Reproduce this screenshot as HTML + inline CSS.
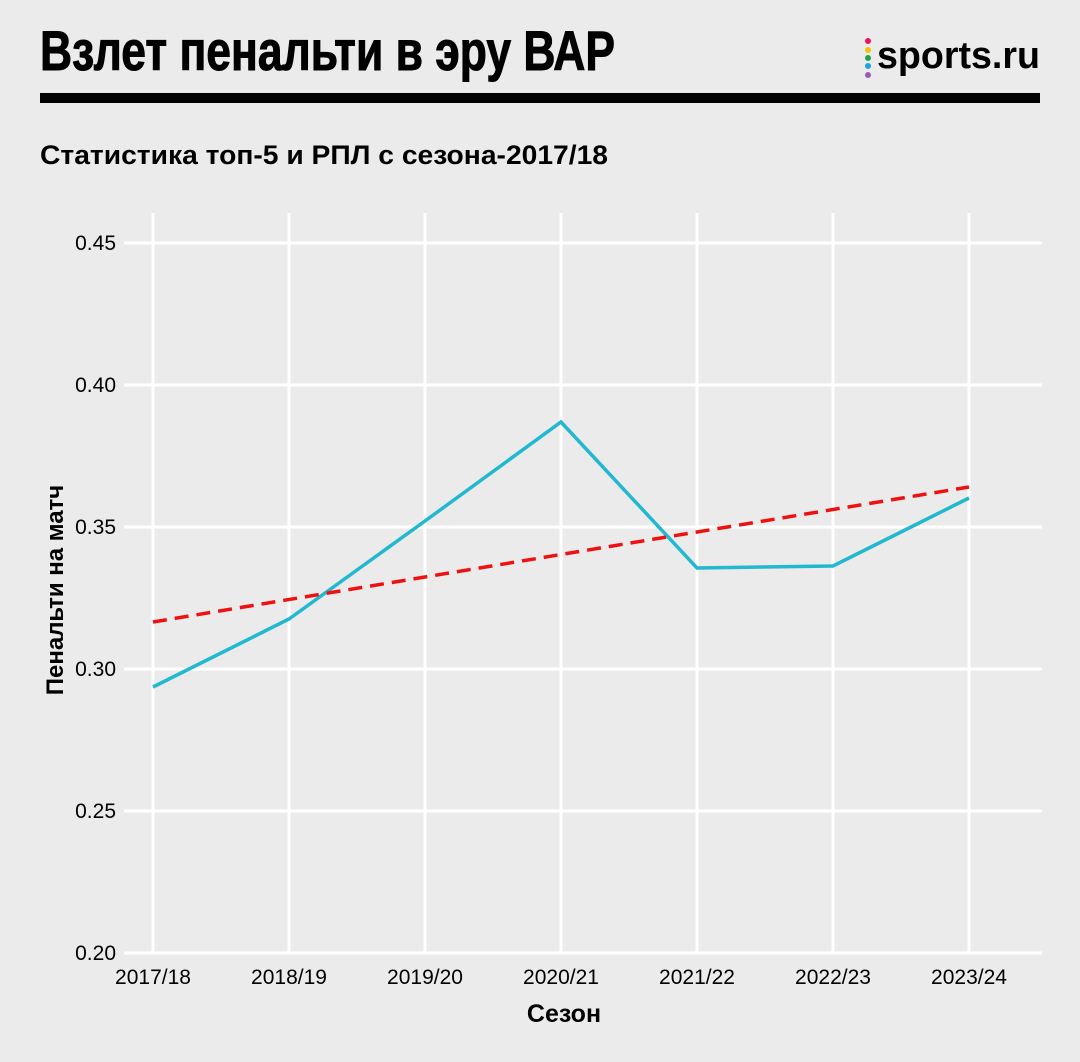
<!DOCTYPE html>
<html><head><meta charset="utf-8"><style>
body{margin:0;background:#ebebeb;}
svg{display:block;font-family:"Liberation Sans","DejaVu Sans",sans-serif;}
</style></head><body>
<svg width="1080" height="1062" viewBox="0 0 1080 1062">
<rect width="1080" height="1062" fill="#ebebeb"/>
<text x="40" y="70" font-size="56" font-weight="bold" textLength="575" lengthAdjust="spacingAndGlyphs" stroke="#000" stroke-width="1">Взлет пенальти в эру ВАР</text>
<circle cx="868" cy="41" r="3" fill="#e8175d"/>
<circle cx="868" cy="50" r="3" fill="#f5c400"/>
<circle cx="868" cy="58" r="3" fill="#22a34a"/>
<circle cx="868" cy="66" r="3" fill="#1aa3e8"/>
<circle cx="868" cy="75" r="3" fill="#9b59b6"/>
<text x="877" y="68" font-size="38" font-weight="bold" textLength="163" lengthAdjust="spacingAndGlyphs">sports.ru</text>
<rect x="40" y="93" width="1000" height="10" fill="#000"/>
<text x="40" y="164" font-size="27" font-weight="bold" textLength="568" lengthAdjust="spacingAndGlyphs">Статистика топ-5 и РПЛ с сезона-2017/18</text>
<g stroke="#fff" stroke-width="3">
<line x1="124" y1="243" x2="1042" y2="243"/>
<line x1="124" y1="385" x2="1042" y2="385"/>
<line x1="124" y1="527" x2="1042" y2="527"/>
<line x1="124" y1="669" x2="1042" y2="669"/>
<line x1="124" y1="811" x2="1042" y2="811"/>
<line x1="124" y1="953" x2="1042" y2="953"/>
<line x1="153" y1="213" x2="153" y2="953"/>
<line x1="289" y1="213" x2="289" y2="953"/>
<line x1="425" y1="213" x2="425" y2="953"/>
<line x1="561" y1="213" x2="561" y2="953"/>
<line x1="697" y1="213" x2="697" y2="953"/>
<line x1="833" y1="213" x2="833" y2="953"/>
<line x1="969" y1="213" x2="969" y2="953"/>
</g>
<g font-size="21" text-anchor="end">
<text x="116" y="250">0.45</text>
<text x="116" y="392">0.40</text>
<text x="116" y="534">0.35</text>
<text x="116" y="676">0.30</text>
<text x="116" y="818">0.25</text>
<text x="116" y="960">0.20</text>
</g>
<g font-size="21" text-anchor="middle">
<text x="153" y="984">2017/18</text>
<text x="289" y="984">2018/19</text>
<text x="425" y="984">2019/20</text>
<text x="561" y="984">2020/21</text>
<text x="697" y="984">2021/22</text>
<text x="833" y="984">2022/23</text>
<text x="969" y="984">2023/24</text>
</g>
<text x="564" y="1022" font-size="25" font-weight="bold" text-anchor="middle">Сезон</text>
<text transform="translate(63,590) rotate(-90)" font-size="24" font-weight="bold" text-anchor="middle">Пенальти на матч</text>
<polyline points="153,687 289,619 425,521 561,422 697,568 833,566 969,498" fill="none" stroke="#22b8cf" stroke-width="3.5"/>
<line x1="153" y1="622" x2="969" y2="487" stroke="#ee1111" stroke-width="3.5" stroke-dasharray="14,8"/>
</svg>
</body></html>
